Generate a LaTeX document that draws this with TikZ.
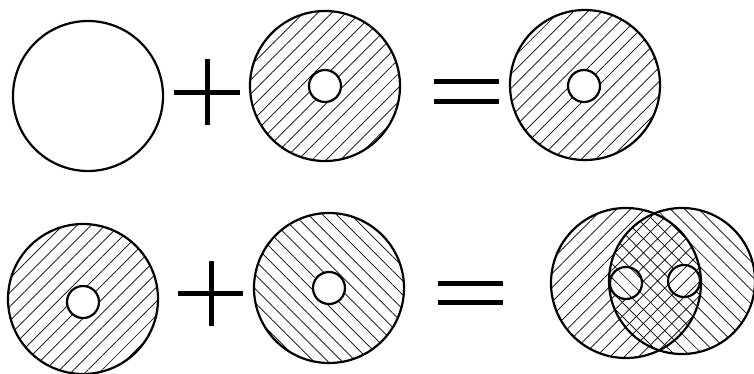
\documentclass[tikz,border=0pt]{standalone}
\usetikzlibrary{patterns.meta}
\tikzset{
  disk/.style={circle, draw, line width=2.2pt, minimum size=150pt, inner sep=0pt},
  hole/.style={circle, draw, fill=white, line width=2.2pt, minimum size=32pt, inner sep=0pt},
  ne/.style={pattern={Lines[angle=45,distance=10pt,line width=0.7pt]}},
  nw/.style={pattern={Lines[angle=-45,distance=10pt,line width=0.7pt]}},
  sign/.style={line width=5pt}
}

\begin{document}
\begin{tikzpicture}[x=1pt, y=1pt]
    \useasboundingbox (0,0) rectangle (754,-373);

    % top row
    \node[disk] (A) at (88,-96) {};
    \node[disk, ne] (B) at (325,-86) {};
    \node[hole] (Bh) at (B.center) {};
    \node[disk, ne] (C) at (585,-85) {};
    \node[hole] (Ch) at (584,-86) {};

    \draw[sign] (174,-92) -- (240,-92) (207,-59) -- (207,-125);
    \draw[sign] (434,-81) -- (499,-81) (434,-101) -- (499,-101);

    % bottom row
    \node[disk, ne] (D) at (83,-299) {};
    \node[hole] (Dh) at (83,-302) {};
    \node[disk, nw] (E) at (329,-288) {};
    \node[hole] (Eh) at (E.center) {};

    \draw[sign] (178,-293) -- (243,-293) (211,-261) -- (211,-326);
    \draw[sign] (438,-283) -- (503,-283) (438,-302) -- (503,-302);

    % overlap
    \node[disk, ne] (F) at (626,-283) {};
    \node[disk, nw, minimum size=146pt] (G) at (682,-281) {};
    \node[hole, preaction={fill=white}, nw] (Fh) at (F.center) {};
    \node[hole, preaction={fill=white}, ne] (Gh) at (684,-281) {};
\end{tikzpicture}
\end{document}
